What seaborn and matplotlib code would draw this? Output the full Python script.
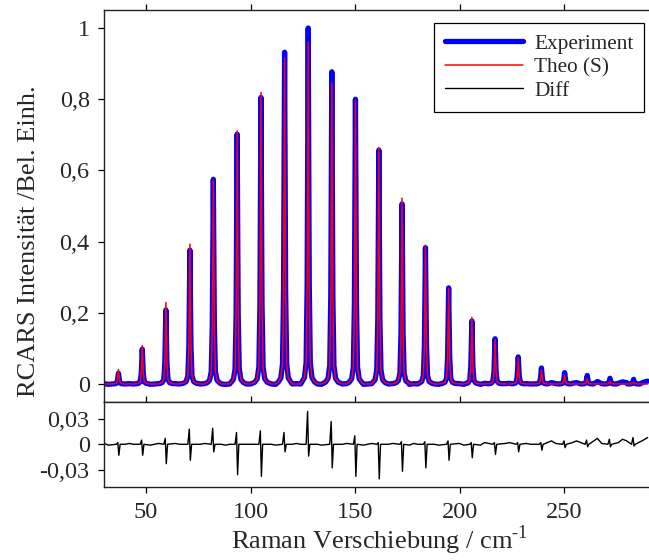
import numpy as np
import pandas as pd
import matplotlib
matplotlib.use("Agg")
import matplotlib.pyplot as plt
import seaborn as sns

# --- values ---
# line positions (cm^-1)
peak_pos = [36.8, 48.2, 59.5, 71.0, 82.2, 93.6, 105.0, 116.3, 127.6, 138.9, 150.2,
            161.4, 172.5, 183.7, 194.8, 205.9, 217.0, 228.1, 239.2, 250.3, 261.1, 272.0, 283.3]
# measured peak heights (Experiment)
exp_height = [0.030, 0.098, 0.208, 0.376, 0.575, 0.702, 0.805, 0.932, 1.000, 0.877, 0.800,
              0.657, 0.506, 0.383, 0.270, 0.177, 0.127, 0.076, 0.045, 0.032, 0.024, 0.016, 0.013]
# fitted peak heights (Theo (S))
theo_height = [0.041, 0.108, 0.229, 0.393, 0.572, 0.711, 0.819, 0.915, 0.961, 0.846, 0.796,
               0.664, 0.522, 0.390, 0.268, 0.187, 0.125, 0.075, 0.040, 0.025, 0.015, 0.008, 0.005]
# line shape read from one peak (offset in cm^-1, fraction of peak height)
prof_dx = [-3.0, -1.8, -1.0, -0.5, 0.0, 0.5, 1.0, 1.8, 3.0]
prof_f = [0.006, 0.018, 0.06, 0.28, 1.0, 0.28, 0.06, 0.018, 0.006]

# residual spikes at each line (max / min of Diff)
diff_up = [0.002, 0.005, 0.007, 0.018, 0.019, 0.014, 0.016, 0.014, 0.039, 0.027, 0.010,
           0.002, 0.003, 0.003, 0.004, 0.002, 0.002, 0.002, 0.002, 0.004, 0.005, 0.006, 0.008]
diff_down = [-0.013, -0.013, -0.023, -0.019, -0.009, -0.036, -0.038, -0.009, -0.014, -0.028, -0.038,
             -0.041, -0.032, -0.028, -0.019, -0.016, -0.012, -0.009, -0.007, -0.004, -0.003, -0.003, -0.002]

# baseline of the residual between lines, every 2 cm^-1 from 30 to 290
base_x = np.arange(30, 291, 2)
base_diff = [0.001, -0.001, 0.000, 0.001, -0.001, 0.000, 0.001, 0.000, -0.001, 0.000, 0.001, -0.001, 0.000, 0.001, 0.000,
             -0.001, 0.000, 0.001, 0.000, -0.001, 0.001, 0.000, -0.001, 0.000, 0.001, 0.000, -0.001, 0.001, 0.000, -0.001,
             0.000, 0.001, 0.000, -0.001, 0.000,
             0.000, 0.001, -0.001, 0.000, 0.001, 0.000, -0.001, 0.000, 0.001, -0.001, 0.000, 0.001, 0.000, -0.001, 0.000,
             0.001, 0.000, -0.001, 0.000, 0.000, 0.001, -0.001, 0.000, 0.001, 0.000,
             -0.001, 0.000, -0.001, 0.000, 0.001, -0.001, 0.000, -0.001, 0.000, 0.001, -0.001, 0.000, 0.000, -0.001, 0.001,
             0.000, -0.001, 0.000, 0.001, 0.000, -0.001, 0.001, 0.000, 0.002, 0.000,
             0.001, -0.001, 0.002, 0.000, 0.001, -0.001, 0.002, 0.001, 0.000, 0.002, -0.001, 0.001, 0.002, 0.000, 0.002,
             -0.001, 0.001, 0.000, 0.002, 0.001,
             0.003, 0.000, 0.004, 0.001, 0.003, -0.001, 0.005, 0.002, 0.004, 0.000, 0.006, 0.002, 0.004, 0.007, 0.001,
             0.005, 0.003, 0.008, 0.002, 0.006, 0.004, 0.009, 0.003, 0.007, 0.005, 0.008]

top_ticks = [0, 0.2, 0.4, 0.6, 0.8, 1]
top_ticklabels = ["0", "0,2", "0,4", "0,6", "0,8", "1"]
low_ticks = [-0.03, 0, 0.03]
low_ticklabels = ["-0,03", "0", "0,03"]
x_ticks = [50, 100, 150, 200, 250]


def build_trace(heights, base_vals, spikes=None):
    pts = []
    pos = np.array(peak_pos)
    for i, p in enumerate(peak_pos):
        if spikes is None:
            for dx, f in zip(prof_dx, prof_f):
                pts.append((p + dx, heights[i] * f))
        else:
            up, down = spikes
            pts += [(p - 1.0, 0.0), (p - 0.3, up[i]), (p + 0.2, down[i]), (p + 0.8, 0.0)]
    for x, v in zip(base_x, base_vals):
        if np.min(np.abs(pos - x)) > 3.2:
            pts.append((x, v))
    df = pd.DataFrame(pts, columns=["x", "y"]).sort_values("x")
    return df


exp_df = build_trace(exp_height, base_diff)
theo_df = build_trace(theo_height, [0.0] * len(base_x))
diff_df = build_trace(None, base_diff, spikes=(diff_up, diff_down))

sns.set_theme(style="ticks")
plt.rcParams["font.family"] = ["Liberation Serif", "DejaVu Serif"]
plt.rcParams["mathtext.fontset"] = "custom"
plt.rcParams["mathtext.rm"] = "Liberation Serif"

fig = plt.figure(figsize=(6.49, 5.6), dpi=100)
ax1 = fig.add_axes([0.1606, 0.2827, 0.8437, 0.6994])
ax2 = fig.add_axes([0.1606, 0.1298, 0.8437, 0.1529])

sns.lineplot(data=exp_df, x="x", y="y", ax=ax1, color="#0000ff", lw=3.8,
             estimator=None, sort=False, label="Experiment")
sns.lineplot(data=theo_df, x="x", y="y", ax=ax1, color="#ff0000", lw=1.1,
             estimator=None, sort=False, label="Theo (S)")
sns.lineplot(data=diff_df, x="x", y="y", ax=ax2, color="black", lw=1.0,
             estimator=None, sort=False, label="Diff")

for ax in (ax1, ax2):
    ax.set_xlim(30, 292)
    ax.set_xticks(x_ticks)
    ax.set_xlabel("")
    ax.set_ylabel("")
    ax.tick_params(direction="out", top=True, bottom=True, left=True, right=False,
                   length=4.5, width=0.9, color="black", labelsize=17.5, pad=6)
    for s in ax.spines.values():
        s.set_visible(True)
        s.set_color("#222222")
        s.set_linewidth(1.0)

ax1.set_ylim(-0.0497, 1.0506)
ax1.set_yticks(top_ticks)
ax1.set_yticklabels(top_ticklabels)
ax1.tick_params(labelbottom=False)

ax2.set_ylim(-0.051, 0.0505)
ax2.set_yticks(low_ticks)
ax2.set_yticklabels(low_ticklabels)

h1, l1 = ax1.get_legend_handles_labels()
h2, l2 = ax2.get_legend_handles_labels()
ax2.get_legend().remove()
leg = ax1.legend(h1 + h2, l1 + l2, loc="upper right", bbox_to_anchor=(0.986, 0.9668),
                 borderaxespad=0, fontsize=15.3, handlelength=3.7, handletextpad=0.5,
                 labelspacing=0.18, borderpad=0.5, fancybox=False, framealpha=1,
                 edgecolor="black")
leg.get_frame().set_linewidth(0.9)

fig.text(0.045, 1 - 241 / 560, "RCARS Intensität /Bel. Einh.", rotation=90,
         ha="center", va="center", fontsize=19)
fig.text(0.585, 1 - 549 / 560, r"Raman Verschiebung / cm$^{\text{-1}}$",
         ha="center", va="baseline", fontsize=19)

fig.savefig("out.png", dpi=100)
